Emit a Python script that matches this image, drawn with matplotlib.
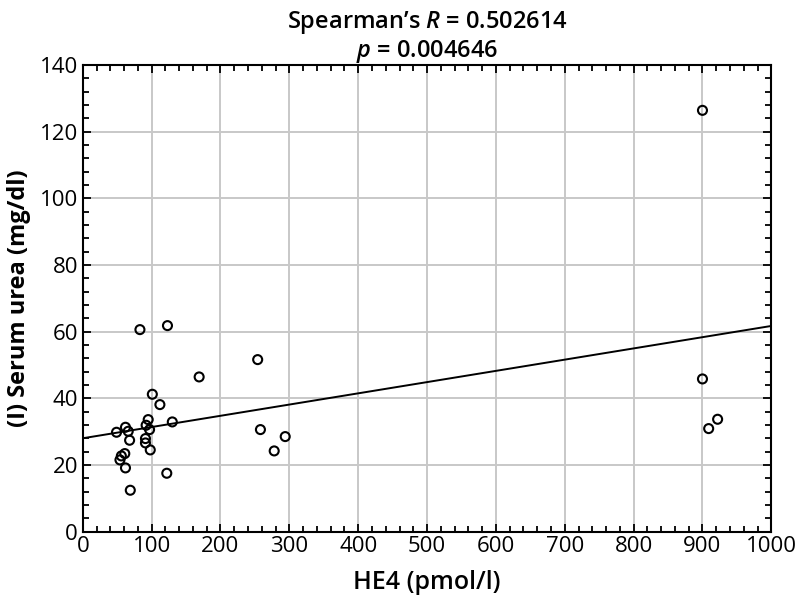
import matplotlib
matplotlib.use('Agg')
import matplotlib.pyplot as plt
from matplotlib.ticker import MultipleLocator

plt.rcParams['font.family'] = ['Open Sans', 'DejaVu Sans']
plt.rcParams['mathtext.fontset'] = 'custom'
plt.rcParams['mathtext.it'] = 'Open Sans:italic:semibold'
plt.rcParams['mathtext.rm'] = 'Open Sans'

# HE4 (pmol/l) vs serum urea (mg/dl)
he4 = [83, 123, 169, 101, 112, 95, 130, 92, 97, 62, 66, 49, 68, 91, 91,
       98, 61, 56, 54, 62, 122, 69, 254, 258, 294, 278, 900, 900, 922, 909]
urea = [60.6, 61.8, 46.4, 41.2, 38.1, 33.6, 32.9, 31.9, 30.6, 31.3, 30.1,
        29.8, 27.4, 27.9, 26.6, 24.5, 23.4, 22.7, 21.5, 19.1, 17.5, 12.4,
        51.6, 30.6, 28.5, 24.2, 126.4, 45.8, 33.7, 30.9]

# fitted line
intercept = 28.0
slope = 0.0337
line_x = [0, 1000]

fig = plt.figure(figsize=(7.96, 6.02), dpi=100)
ax = fig.add_axes([0.104, 0.117, 0.865, 0.775])

ax.grid(True, color='#c8c8c8', linewidth=1.4)
ax.set_axisbelow(True)
ax.plot(line_x, [intercept + slope * v for v in line_x], color='black', linewidth=1.4)
ax.scatter(he4, urea, s=42, facecolors='none', edgecolors='black', linewidths=1.5, zorder=3)

ax.set_xlim(0, 1000)
ax.set_ylim(0, 140)
ax.xaxis.set_major_locator(MultipleLocator(100))
ax.xaxis.set_minor_locator(MultipleLocator(20))
ax.yaxis.set_major_locator(MultipleLocator(20))
ax.yaxis.set_minor_locator(MultipleLocator(4))
ax.tick_params(which='both', direction='in', top=True, right=True, width=1.3, labelsize=16)
ax.tick_params(which='major', length=6)
ax.tick_params(which='minor', length=4)
for sp in ax.spines.values():
    sp.set_linewidth(1.5)

ax.set_xlabel('HE4 (pmol/l)', fontsize=18, fontweight='semibold', labelpad=9)
ax.set_ylabel('(I) Serum urea (mg/dl)', fontsize=17, fontweight='bold', labelpad=6)
ax.set_title("Spearman’s $R$ = 0.502614\n$p$ = 0.004646", fontsize=17,
             fontweight='semibold', linespacing=1.1, pad=4)

fig.savefig('out.png', dpi=100)
